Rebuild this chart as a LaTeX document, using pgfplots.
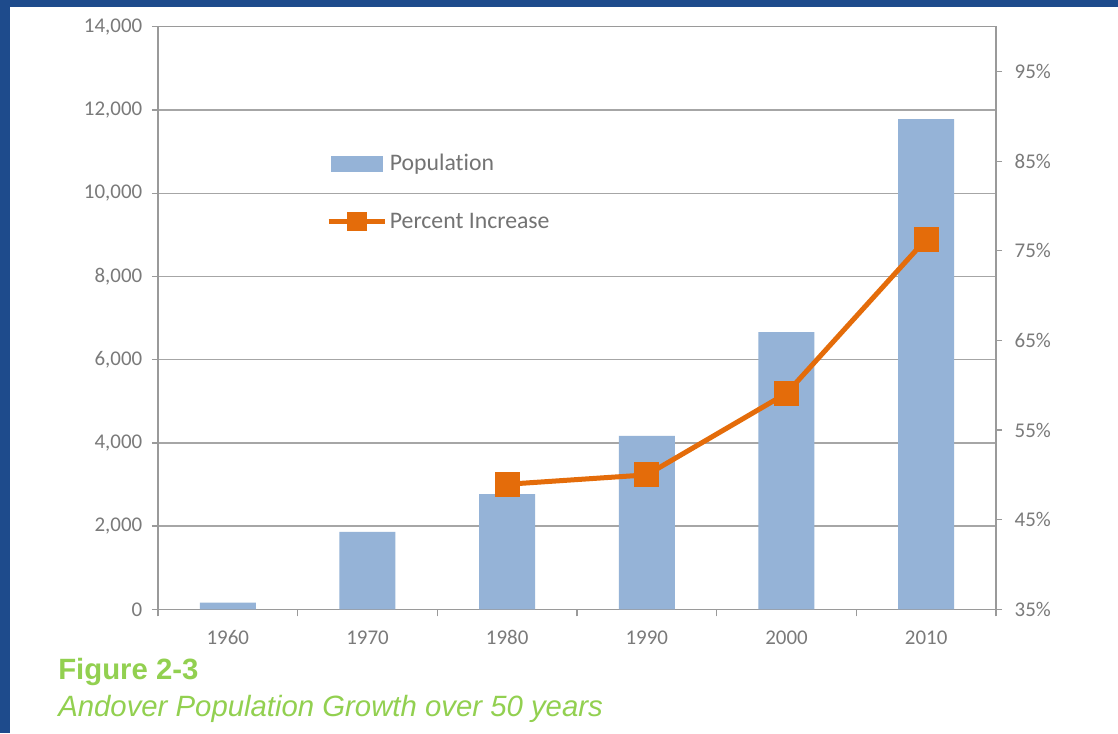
\documentclass[border=0pt]{standalone}
\usepackage{pgfplots}
\pgfplotsset{compat=1.18}
\usepackage{fontspec}
\setmainfont{Carlito}[Ligatures=NoCommon]
\newfontfamily\arial{Liberation Sans}

\definecolor{frameblue}{HTML}{1E4B8C}
\definecolor{barblue}{HTML}{95B3D7}
\definecolor{orangeline}{HTML}{E46C0A}
\definecolor{gridgray}{HTML}{A6A6A6}
\definecolor{axisgray}{HTML}{9A9A9A}
\definecolor{labelgray}{HTML}{7A7A7A}
\definecolor{legendgray}{HTML}{737373}
\definecolor{capgreen}{HTML}{92D050}

\pgfplotsset{
  chartbase/.style={
    at={(118.5pt,92.78pt)}, anchor=south west,
    scale only axis, width=628.5pt, height=436.9pt,
    xmin=-0.5, xmax=5.5,
    axis line style={axisgray, line width=1pt},
    tick style={axisgray, line width=1pt},
    tick align=outside,
    major tick length=4.5pt,
    minor tick length=5.25pt,
    /pgf/number format/assume math mode=true,
    ticklabel style={font=\fontsize{15.7}{18}\selectfont, text=labelgray},
  },
}

\begin{document}
\begin{tikzpicture}
\path[use as bounding box, fill=white] (0,0) rectangle (838.5pt,549.75pt);
\fill[frameblue] (0,544.5pt) rectangle (838.5pt,549.75pt);
\fill[frameblue] (0,0) rectangle (7.5pt,549.75pt);

% population bars, left axis
\begin{axis}[
  chartbase,
  ymin=0, ymax=14000,
  ytick={0,2000,...,14000},
  scaled y ticks=false,
  ytick pos=left,
  xtick pos=bottom,
  ymajorgrids,
  grid style={gridgray, line width=1pt},
  xtick={0,...,5},
  xticklabels={1960,1970,1980,1990,2000,2010},
  minor xtick={-0.5,0.5,...,5.5},
  major x tick style={draw=none},
  yticklabel style={xshift=-3.8pt, /pgf/number format/fixed, /pgf/number format/1000 sep={,}},
  xticklabel style={yshift=-8pt},
]
\addplot[ybar, bar width=42pt, fill=barblue, draw=none]
  coordinates {(0,160) (1,1860) (2,2770) (3,4170) (4,6660) (5,11780)};
\end{axis}

% percent increase, right axis
\begin{axis}[
  chartbase,
  ymin=35, ymax=100,
  axis x line=none,
  axis y line*=right,
  ytick={35,45,...,95},
  yticklabel={\pgfmathprintnumber{\tick}\%},
  yticklabel style={xshift=6pt},
  legend style={at={(0.2004,0.716)}, anchor=west, draw=none, fill=none,
    inner sep=0pt, row sep=26pt,
    font=\fontsize{17.8}{20}\selectfont, text=legendgray,
    /tikz/every even column/.style={column sep=3pt}},
  legend cell align=left,
]
\addlegendimage{legend image code/.code={\fill[barblue] (0pt,-5.6pt) rectangle (38pt,5.6pt);}}
\addlegendentry{Population}
\addplot[orangeline, line width=3.75pt, mark=square*, mark size=7.5pt,
  legend image code/.code={
    \draw[orangeline, line width=3.75pt] (-2pt,0pt) -- (40pt,0pt);
    \fill[orangeline] (13.5pt,-5.5pt) rectangle (25pt,5.5pt);}]
  coordinates {(2,48.95) (3,50.0) (4,59.1) (5,76.3)};
\addlegendentry{Percent Increase}
\end{axis}

\node[anchor=base west, inner sep=0pt, text=capgreen,
  font=\arial\bfseries\fontsize{22}{26}\selectfont] at (43.5pt,40.5pt) {Figure 2-3};
\node[anchor=base west, inner sep=0pt, text=capgreen,
  font=\arial\itshape\fontsize{22}{26}\selectfont] at (43.5pt,12.75pt) {Andover Population Growth over 50 years};
\end{tikzpicture}
\end{document}
